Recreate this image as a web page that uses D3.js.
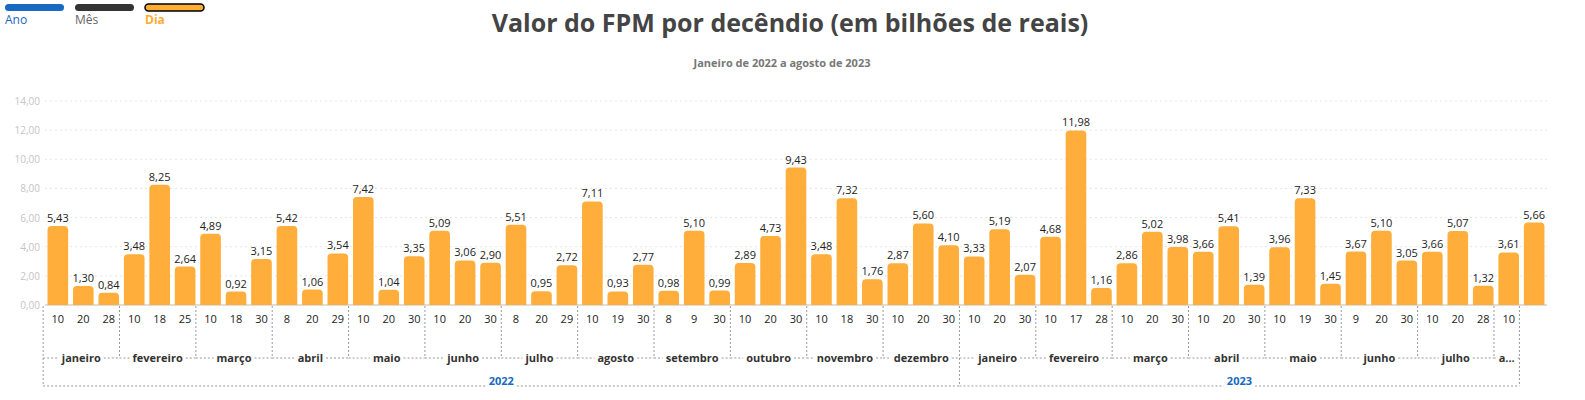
<!DOCTYPE html>
<html>
<head>
<meta charset="utf-8">
<script src="https://d3js.org/d3.v7.min.js"></script>
<style>
  body { margin: 0; background: #fff; font-family: "Open Sans", "DejaVu Sans", sans-serif; }
</style>
</head>
<body>
<script>
// values
var days = [10,20,28, 10,18,25, 10,18,30, 8,20,29, 10,10,30, 10,20,30, 8,20,29, 10,19,30, 8,9,30, 10,20,28, 10,18,30, 10,20,30,
            10,20,30, 10,17,28, 10,20,30, 10,20,30, 10,19,30, 9,20,30, 10,20,28, 10];
var values = [5.43,1.30,0.84, 3.48,8.25,2.64, 4.89,0.92,3.15, 5.42,1.06,3.54, 7.42,1.04,3.35, 5.09,3.06,2.90,
              5.51,0.95,2.72, 7.11,0.93,2.77, 0.98,5.10,0.99, 2.89,4.73,9.43, 3.48,7.32,1.76, 2.87,5.60,4.10,
              3.33,5.19,2.07, 4.68,11.98,1.16, 2.86,5.02,3.98, 3.66,5.41,1.39, 3.96,7.33,1.45, 3.67,5.10,3.05,
              3.66,5.07,1.32, 3.61,5.66];
// fix: day labels in picture run per month in order shown
days = [10,20,28, 10,18,25, 10,18,30, 8,20,29, 10,20,30, 10,20,30, 8,20,29, 10,19,30, 8,9,30, 10,20,30, 10,18,30, 10,20,30,
        10,20,30, 10,17,28, 10,20,30, 10,20,30, 10,19,30, 9,20,30, 10,20,28, 10];
values = [5.43,1.30,0.84, 3.48,8.25,2.64, 4.89,0.92,3.15, 5.42,1.06,3.54, 7.42,1.04,3.35, 5.09,3.06,2.90,
          5.51,0.95,2.72, 7.11,0.93,2.77, 0.98,5.10,0.99, 2.89,4.73,9.43, 3.48,7.32,1.76, 2.87,5.60,4.10,
          3.33,5.19,2.07, 4.68,11.98,1.16, 2.86,5.02,3.98, 3.66,5.41,1.39, 3.96,7.33,1.45, 3.67,5.10,3.05,
          3.66,5.07,1.32, 3.61,5.66];
var months = ["janeiro","fevereiro","março","abril","maio","junho","julho","agosto","setembro","outubro","novembro","dezembro",
              "janeiro","fevereiro","março","abril","maio","junho","julho","a..."];
var monthSizes = [3,3,3,3,3,3,3,3,3,3,3,3, 3,3,3,3,3,3,3,1];
var years = ["2022","2023"];
var yearSizes = [36,22];
var yTicks = [0,2,4,6,8,10,12,14];

var W = 1585, H = 400;
var svg = d3.select("body").append("svg").attr("width", W).attr("height", H);
var fmt = function(v){ return v.toFixed(2).replace(".", ","); };

// top-left selector
var btns = [{t:"Ano", c:"#1769c2", tc:"#1769c2"}, {t:"Mês", c:"#333", tc:"#666"}, {t:"Dia", c:"#ffad33", tc:"#ffad33"}];
btns.forEach(function(b, i) {
  var x = 5 + i * 70;
  svg.append("rect").attr("x", x).attr("y", 4).attr("width", 59).attr("height", 7).attr("rx", 3.5)
    .attr("fill", b.c).attr("stroke", i == 2 ? "#000" : "none").attr("stroke-width", 1.5);
  svg.append("text").attr("x", x).attr("y", 24).attr("font-size", 12).attr("fill", b.tc)
    .attr("font-weight", i == 2 ? "bold" : "normal").text(b.t);
});

svg.append("text").attr("x", 790).attr("y", 32).attr("text-anchor", "middle")
  .attr("font-size", 25).attr("font-weight", "bold").attr("fill", "#444")
  .text("Valor do FPM por decêndio (em bilhões de reais)");
svg.append("text").attr("x", 782).attr("y", 67).attr("text-anchor", "middle")
  .attr("font-size", 11).attr("font-weight", "bold").attr("fill", "#777")
  .text("Janeiro de 2022 a agosto de 2023");

var x0 = 45, x1 = 1547;
var x = d3.scaleBand().domain(d3.range(values.length)).range([x0, x1]).paddingInner(0.19).paddingOuter(0.1);
var y = d3.scaleLinear().domain([0, 14]).range([305, 101]);
var step = x.step();

// grid
svg.append("g").selectAll("line").data(yTicks).join("line")
  .attr("x1", x0).attr("x2", x1).attr("y1", d => y(d)).attr("y2", d => y(d))
  .attr("stroke", d => d == 0 ? "#bbb" : "#e6e6e6").attr("stroke-dasharray", d => d == 0 ? null : "2,3");
svg.append("g").selectAll("text").data(yTicks).join("text")
  .attr("x", 40).attr("y", d => y(d) + 4).attr("text-anchor", "end")
  .attr("font-size", 10).attr("fill", "#c4c4c4").text(fmt);

// bars
svg.append("g").selectAll("path").data(values).join("path")
  .attr("fill", "#ffad3b")
  .attr("d", function(d, i) {
    var bx = x(i), bw = x.bandwidth(), by = y(d), bh = y(0) - by, r = Math.min(4, bh / 2);
    return "M" + bx + "," + y(0) + "V" + (by + r) + "Q" + bx + "," + by + " " + (bx + r) + "," + by +
      "H" + (bx + bw - r) + "Q" + (bx + bw) + "," + by + " " + (bx + bw) + "," + (by + r) + "V" + y(0) + "Z";
  });
svg.append("g").selectAll("text").data(values).join("text")
  .attr("x", (d, i) => x(i) + x.bandwidth() / 2).attr("y", d => y(d) - 4)
  .attr("text-anchor", "middle").attr("font-size", 11).attr("fill", "#222").text(fmt);

// day labels
svg.append("g").selectAll("text").data(days).join("text")
  .attr("x", (d, i) => x(i) + x.bandwidth() / 2).attr("y", 323)
  .attr("text-anchor", "middle").attr("font-size", 11).attr("fill", "#222").text(d => d);

var dot = {stroke: "#999", "stroke-dasharray": "2,2", fill: "none"};
function line(x1_, y1_, x2_, y2_) {
  var l = svg.append("line").attr("x1", x1_).attr("y1", y1_).attr("x2", x2_).attr("y2", y2_);
  for (var k in dot) l.attr(k, dot[k]);
}
var bx0 = x(0) - x.step() * x.paddingInner() / 2 - 2;
function edge(n) { return bx0 + n * step; }

// month row
var pos = 0;
months.forEach(function(m, i) {
  var a = edge(pos), b = edge(pos + monthSizes[i]);
  pos += monthSizes[i];
  var t = svg.append("text").attr("x", (a + b) / 2).attr("y", 362).attr("text-anchor", "middle")
    .attr("font-size", 11).attr("font-weight", "bold").attr("fill", "#333").text(m);
  var tw = t.node().getComputedTextLength() + 6;
  line(a, 358, (a + b) / 2 - tw / 2, 358);
  line((a + b) / 2 + tw / 2, 358, b, 358);
  line(b, 306, b, 358);
  if (i == 0) line(a, 306, a, 386);
});

// year row
pos = 0;
years.forEach(function(yv, i) {
  var a = edge(pos), b = edge(pos + yearSizes[i]);
  pos += yearSizes[i];
  var t = svg.append("text").attr("x", (a + b) / 2).attr("y", 385).attr("text-anchor", "middle")
    .attr("font-size", 11).attr("font-weight", "bold").attr("fill", "#1769c2").text(yv);
  var tw = t.node().getComputedTextLength() + 6;
  line(a, 386, (a + b) / 2 - tw / 2, 386);
  line((a + b) / 2 + tw / 2, 386, b, 386);
  line(b, 358, b, 386);
});
</script>
</body>
</html>
